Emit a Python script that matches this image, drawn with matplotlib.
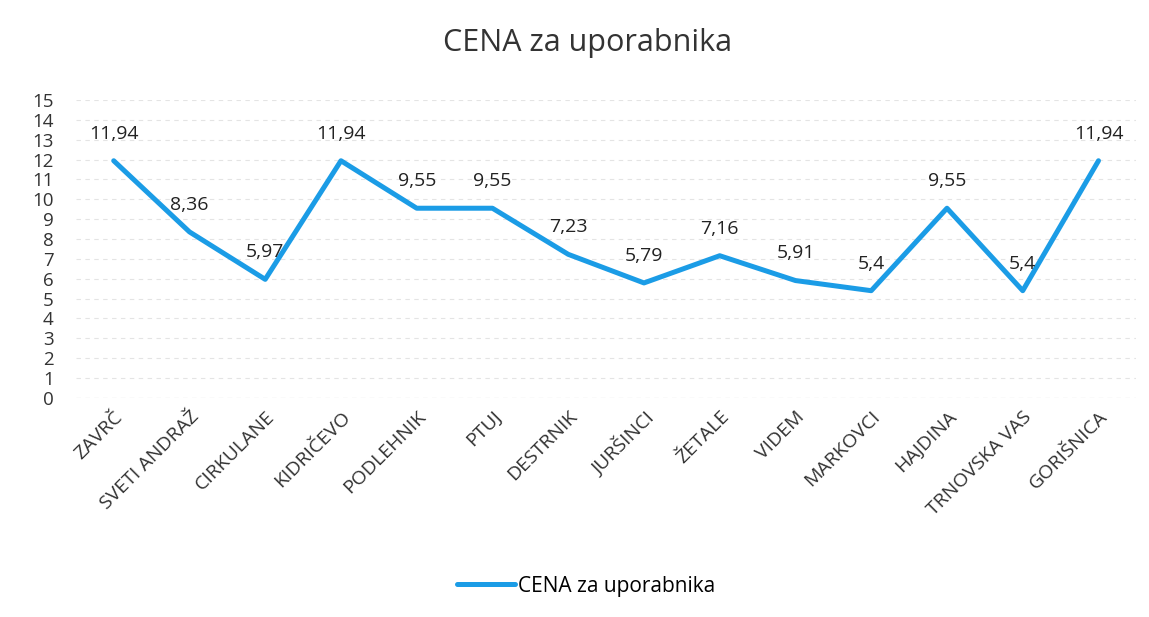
import numpy as np
import matplotlib.pyplot as plt

plt.rcParams['font.family'] = ['Open Sans', 'DejaVu Sans']

# data
obcine = ["ZAVRČ", "SVETI ANDRAŽ", "CIRKULANE", "KIDRIČEVO", "PODLEHNIK", "PTUJ",
          "DESTRNIK", "JURŠINCI", "ŽETALE", "VIDEM", "MARKOVCI", "HAJDINA",
          "TRNOVSKA VAS", "GORIŠNICA"]
cena = [11.94, 8.36, 5.97, 11.94, 9.55, 9.55, 7.23, 5.79, 7.16, 5.91, 5.4, 9.55, 5.4, 11.94]
yticks = list(range(0, 16))

fig = plt.figure(figsize=(11.49, 6.17), dpi=100)
ax = fig.add_axes([0.066, 0.355, 0.923, 0.483])

x = np.arange(len(obcine))
ax.plot(x, cena, color="#1b9ce6", lw=3.6, solid_capstyle="round", solid_joinstyle="round",
        label="CENA za uporabnika")

# data labels
for xi, v in zip(x, cena):
    txt = ("%g" % v).replace(".", ",")
    ax.annotate(txt, (xi, v), xytext=(0, 13), textcoords="offset points",
                ha="center", va="bottom", fontsize=14, color="#222222")

ax.set_xlim(-0.5, len(obcine) - 0.5)
ax.set_ylim(0, 15)
ax.set_yticks(yticks)
ax.set_yticklabels([str(t) for t in yticks], fontsize=13.5, color="#333333")
ax.set_xticks(x)
ax.set_xticklabels(obcine, rotation=45, ha="right", rotation_mode="anchor",
                   fontsize=14, color="#333333")
ax.tick_params(axis="both", length=0, pad=7)
ax.tick_params(axis="y", pad=16)

ax.grid(axis="y", color="#e4e4e4", lw=0.8, ls=(0, (4, 4)))
for s in ax.spines.values():
    s.set_visible(False)
ax.axhline(0, color="#d0d0d0", lw=0.8, ls=(0, (4, 4)))

fig.suptitle("CENA za uporabnika", x=0.511, y=0.955, fontsize=22, color="#333333")

fig.legend(loc="center", bbox_to_anchor=(0.51, 0.05), frameon=False, fontsize=15,
           handlelength=2.8, handletextpad=0.1)

fig.savefig("out.png", dpi=100, facecolor="white")
